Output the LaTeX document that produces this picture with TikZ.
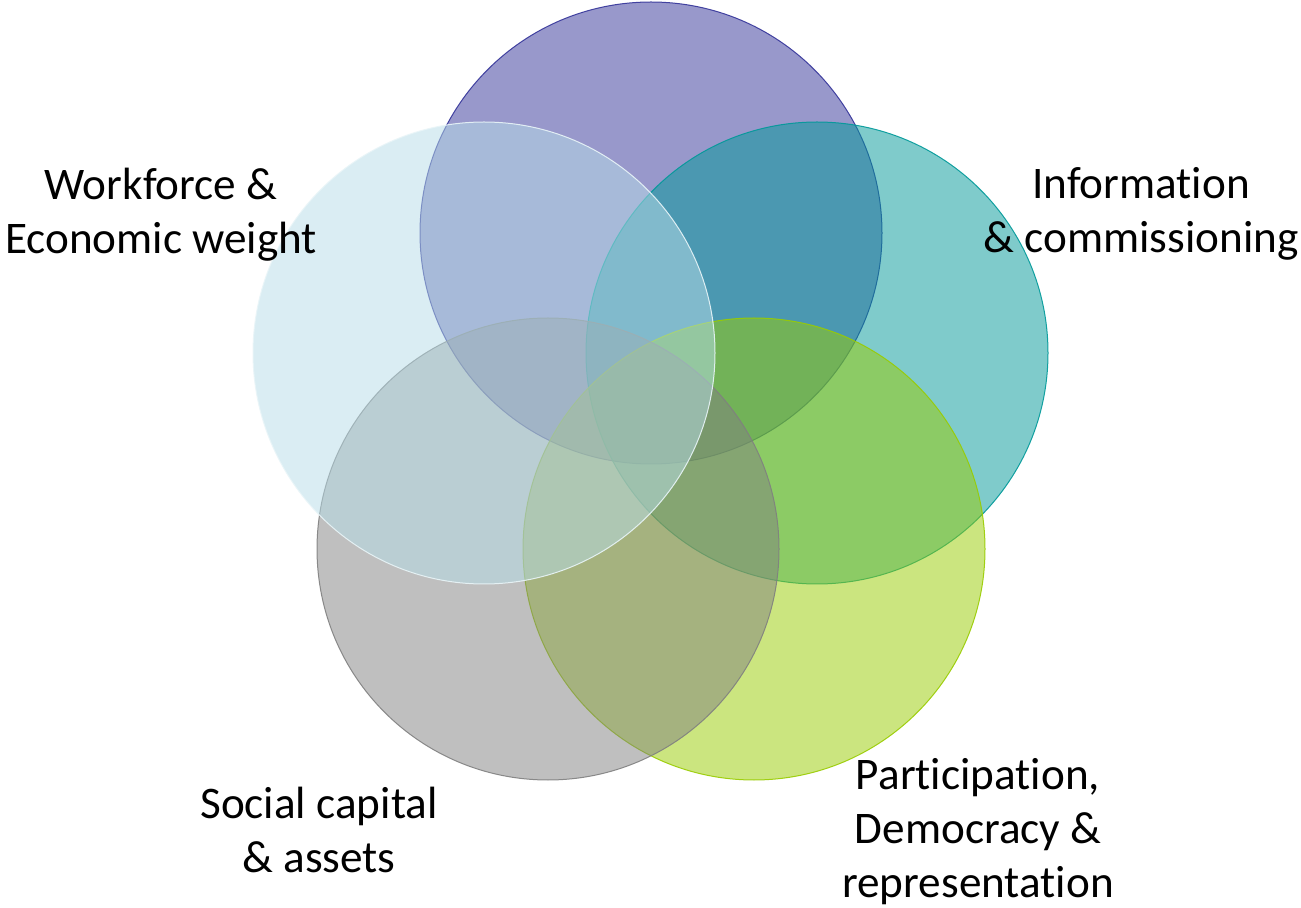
\documentclass[tikz,border=0pt]{standalone}
\usepackage{fontspec}
\setmainfont{Carlito}[Ligatures=CommonOff]
\definecolor{purpleA}{HTML}{333399}
\definecolor{tealA}{HTML}{009999}
\definecolor{greenA}{HTML}{99CC00}
\definecolor{grayA}{HTML}{808080}
\definecolor{blueA}{HTML}{B7DDE8}

\begin{document}
\begin{tikzpicture}[x=0.5pt,y=-0.5pt,
  ring/.style={circle,minimum size=231pt,inner sep=0pt,fill opacity=0.5,draw opacity=0.9,line width=0.5pt},
  lbl/.style={align=center,inner sep=0pt,font=\fontsize{22.6}{27}\selectfont}]
\fill[white] (0,0) rectangle (1301,908);
\useasboundingbox (0,0) rectangle (1301,908);

% the five circles
\node[ring,fill=purpleA,draw=purpleA] (Pur) at (651,233) {};
\node[ring,fill=tealA,draw=tealA] (Tea) at (817,353) {};
\node[ring,fill=greenA,draw=greenA] (Gre) at (754,549) {};
\node[ring,fill=grayA,draw=grayA] (Gra) at (548,549) {};
\node[ring,fill=blueA,draw=white!70!blueA] (Blu) at (484,353) {};

% labels
\node[lbl] (work) at (161,215) {Workforce \&\\Economic weight};
\node[lbl] (info) at (1141,214) {Information\\\& commissioning};
\node[lbl] (part) at (978,832) {Participation,\\Democracy \&\\representation};
\node[lbl] (soc) at (319,830) {Social capital\\\& assets};

\end{tikzpicture}
\end{document}
